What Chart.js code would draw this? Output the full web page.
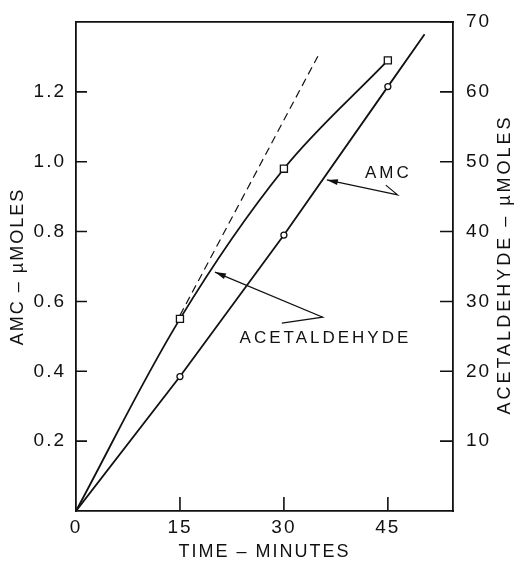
<!DOCTYPE html>
<html>
<head>
<meta charset="utf-8">
<script src="https://cdn.jsdelivr.net/npm/chart.js@4"></script>
<style>
  html, body { margin: 0; padding: 0; background: #fff; }
  #wrap { width: 516px; height: 563px; }
</style>
</head>
<body>
<div id="wrap"><canvas id="chart"></canvas></div>
<script>
// tiempo en minutos
const amcTime = [0, 15, 30, 45, 50.3];
const amcValues = [0, 0.385, 0.79, 1.215, 1.365]; // µmoles (eje izquierdo)
const aceTime = [0, 15, 30, 45];
const aceValues = [0, 27.5, 49, 64.5]; // µmoles (eje derecho)
const tangentTime = [15, 34.9];
const tangentValues = [28, 65.1];

const xTicks = [0, 15, 30, 45];
const amcTicks = [0.2, 0.4, 0.6, 0.8, 1.0, 1.2];
const aceTicks = [10, 20, 30, 40, 50, 60, 70];

// rótulos con flecha, en unidades de tiempo / AMC
const notes = [
  { text: "ACETALDEHYDE", at: [23.6, 0.493], tip: [20.05, 0.684], tail: [35.6, 0.555], hook: [29.7, 0.538] },
  { text: "AMC", at: [41.7, 0.968], tip: [36.2, 0.948], tail: [46.4, 0.905], hook: [44.7, 0.933] },
];

const INK = "#111";
const FONT = "'Liberation Sans', Arial, sans-serif";
Chart.defaults.font.family = FONT;
Chart.defaults.color = INK;

const pts = (xs, ys) => xs.map((x, i) => ({ x: x, y: ys[i] }));

const lettering = {
  id: "lettering",
  beforeDraw(chart) {
    chart.ctx.letterSpacing = "2px";
  },
  afterDraw(chart) {
    const ctx = chart.ctx;
    const { x, yAmc, yAce } = chart.scales;
    const area = chart.chartArea;
    ctx.save();
    ctx.strokeStyle = INK;
    ctx.fillStyle = INK;
    ctx.lineWidth = 1.6;

    // marcas de escala hacia adentro
    ctx.beginPath();
    xTicks.filter((v) => v > 0).forEach((v) => {
      const px = x.getPixelForValue(v);
      ctx.moveTo(px, area.bottom);
      ctx.lineTo(px, area.bottom - 14);
    });
    amcTicks.forEach((v) => {
      const py = yAmc.getPixelForValue(v);
      ctx.moveTo(area.left, py);
      ctx.lineTo(area.left + 11, py);
    });
    aceTicks.forEach((v) => {
      const py = yAce.getPixelForValue(v);
      ctx.moveTo(area.right, py);
      ctx.lineTo(area.right - 13, py);
    });
    ctx.stroke();

    // rótulos y flechas
    ctx.lineWidth = 1.2;
    ctx.font = "17px " + FONT;
    ctx.letterSpacing = "3px";
    ctx.textBaseline = "middle";
    ctx.textAlign = "left";
    notes.forEach((n) => {
      const p = (a) => [x.getPixelForValue(a[0]), yAmc.getPixelForValue(a[1])];
      const at = p(n.at), tip = p(n.tip), tail = p(n.tail), hook = p(n.hook);
      ctx.fillText(n.text, at[0], at[1]);
      ctx.beginPath();
      ctx.moveTo(hook[0], hook[1]);
      ctx.lineTo(tail[0], tail[1]);
      ctx.lineTo(tip[0], tip[1]);
      ctx.stroke();
      const ang = Math.atan2(tip[1] - tail[1], tip[0] - tail[0]);
      ctx.beginPath();
      ctx.moveTo(tip[0], tip[1]);
      ctx.lineTo(tip[0] - 11 * Math.cos(ang) + 3 * Math.sin(ang), tip[1] - 11 * Math.sin(ang) - 3 * Math.cos(ang));
      ctx.lineTo(tip[0] - 11 * Math.cos(ang) - 3 * Math.sin(ang), tip[1] - 11 * Math.sin(ang) + 3 * Math.cos(ang));
      ctx.closePath();
      ctx.fill();
    });

    // título del eje derecho, leído de abajo hacia arriba
    ctx.font = "18px " + FONT;
    ctx.translate(505, (area.top + area.bottom) / 2 - 2);
    ctx.rotate(-Math.PI / 2);
    ctx.textAlign = "center";
    ctx.fillText("ACETALDEHYDE – µMOLES", 0, 0);
    ctx.restore();
  },
};

new Chart(document.getElementById("chart"), {
  type: "scatter",
  data: {
    datasets: [
      {
        label: "AMC",
        data: pts(amcTime, amcValues),
        yAxisID: "yAmc",
        showLine: true,
        borderColor: INK,
        borderWidth: 1.8,
        pointStyle: "circle",
        pointRadius: (c) => (c.dataIndex === 0 || c.dataIndex === amcTime.length - 1 ? 0 : 3),
        pointBackgroundColor: "#fff",
        pointBorderColor: INK,
        pointBorderWidth: 1.3,
      },
      {
        label: "Acetaldehyde",
        data: pts(aceTime, aceValues),
        yAxisID: "yAce",
        showLine: true,
        tension: 0.35,
        borderColor: INK,
        borderWidth: 1.8,
        pointStyle: "rect",
        pointRadius: (c) => (c.dataIndex === 0 ? 0 : 5),
        pointBackgroundColor: "#fff",
        pointBorderColor: INK,
        pointBorderWidth: 1.3,
      },
      {
        label: "Tangente",
        data: pts(tangentTime, tangentValues),
        yAxisID: "yAce",
        showLine: true,
        borderColor: INK,
        borderWidth: 1.2,
        borderDash: [8, 5],
        pointRadius: 0,
      },
    ],
  },
  options: {
    responsive: true,
    maintainAspectRatio: false,
    animation: false,
    layout: { padding: { left: 0, right: 0, top: 22, bottom: 0 } },
    plugins: { legend: { display: false }, tooltip: { enabled: false } },
    scales: {
      x: {
        type: "linear",
        position: "bottom",
        min: 0,
        max: 54.4,
        afterBuildTicks: (s) => { s.ticks = xTicks.map((v) => ({ value: v })); },
        afterFit: (s) => { s.height = 52; },
        grid: { display: false },
        border: { color: INK, width: 1.8 },
        ticks: { font: { size: 19 }, color: INK, padding: -3, maxRotation: 0, autoSkip: false },
        title: { display: true, text: "TIME – MINUTES", font: { size: 18 }, color: INK, padding: { top: 0, bottom: 0 } },
      },
      xTop: {
        type: "linear",
        position: "top",
        min: 0,
        max: 54.4,
        display: true,
        afterFit: (s) => { s.height = 0; },
        grid: { display: false, drawTicks: false },
        border: { color: INK, width: 1.8 },
        ticks: { display: false },
      },
      yAmc: {
        type: "linear",
        position: "left",
        min: 0,
        max: 1.4,
        afterBuildTicks: (s) => { s.ticks = amcTicks.map((v) => ({ value: v })); },
        afterFit: (s) => { s.width = 76; },
        grid: { display: false },
        border: { color: INK, width: 1.8 },
        ticks: { font: { size: 19 }, color: INK, padding: 2, callback: (v) => v.toFixed(1) },
        title: { display: true, text: "AMC – µMOLES", font: { size: 18 }, color: INK, padding: { top: 7, bottom: 0 } },
      },
      yAce: {
        type: "linear",
        position: "right",
        min: 0,
        max: 70,
        afterBuildTicks: (s) => { s.ticks = aceTicks.map((v) => ({ value: v })); },
        afterFit: (s) => { s.width = 63; },
        grid: { display: false },
        border: { color: INK, width: 1.8 },
        ticks: { font: { size: 19 }, color: INK, padding: 5 },
      },
    },
  },
  plugins: [lettering],
});
</script>
</body>
</html>
